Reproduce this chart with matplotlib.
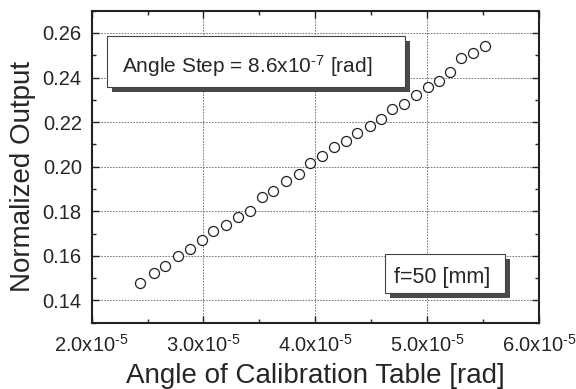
import matplotlib
matplotlib.use("Agg")
import matplotlib.pyplot as plt
from matplotlib.patches import Rectangle

plt.rcParams['font.family'] = ['Liberation Sans', 'DejaVu Sans']
plt.rcParams['mathtext.default'] = 'regular'

# Data (x in units of 1e-5 rad)
angle_e5 = [2.433, 2.558, 2.660, 2.768, 2.876, 2.984, 3.089, 3.198, 3.306, 3.414,
            3.519, 3.624, 3.739, 3.851, 3.952, 4.061, 4.166, 4.271, 4.372, 4.484,
            4.586, 4.687, 4.796, 4.897, 5.006, 5.104, 5.199, 5.301, 5.409, 5.518]
output = [0.1480, 0.1523, 0.1555, 0.1600, 0.1631, 0.1672, 0.1712, 0.1739, 0.1775, 0.1801,
          0.1862, 0.1891, 0.1936, 0.1966, 0.2017, 0.2048, 0.2087, 0.2114, 0.2152, 0.2183,
          0.2215, 0.2260, 0.2281, 0.2320, 0.2357, 0.2386, 0.2423, 0.2486, 0.2509, 0.2540]
angle = [v * 1e-5 for v in angle_e5]

xticks = [2.0e-5, 3.0e-5, 4.0e-5, 5.0e-5, 6.0e-5]
xticklabels = ["2.0x10$^{\u2010 5}$", "3.0x10$^{\u2010 5}$", "4.0x10$^{\u2010 5}$",
               "5.0x10$^{\u2010 5}$", "6.0x10$^{\u2010 5}$"]
yticks = [0.14, 0.16, 0.18, 0.20, 0.22, 0.24, 0.26]
yticklabels = ["0.14", "0.16", "0.18", "0.20", "0.22", "0.24", "0.26"]
xminor = [2.5e-5, 3.5e-5, 4.5e-5, 5.5e-5]
yminor = [0.13, 0.15, 0.17, 0.19, 0.21, 0.23, 0.25, 0.27]

txt_color = '#262626'

fig = plt.figure(figsize=(5.76, 3.89), dpi=100)
ax = fig.add_axes([0.159, 0.1704, 0.777, 0.8021])

ax.plot(angle, output, linestyle='none', marker='o', markersize=7.2,
        markerfacecolor='white', markeredgecolor='#222222', markeredgewidth=0.9, zorder=3)

ax.set_xlim(2.0e-5, 6.0e-5)
ax.set_ylim(0.13, 0.27)
ax.set_xticks(xticks)
ax.set_xticklabels(xticklabels)
ax.set_yticks(yticks)
ax.set_yticklabels(yticklabels)
ax.set_xticks(xminor, minor=True)
ax.set_yticks(yminor, minor=True)

ax.tick_params(which='both', direction='in', top=True, right=True, colors='#222222')
ax.tick_params(which='major', length=5, width=1.0, labelsize=14.5, labelcolor=txt_color)
ax.tick_params(which='minor', length=3, width=1.0)
ax.tick_params(axis='x', which='major', pad=8)
ax.tick_params(axis='y', which='major', pad=7)

ax.grid(True, which='major', color='#666666', linewidth=0.6, linestyle=(0, (2, 1.5)))
ax.set_axisbelow(True)

for s in ax.spines.values():
    s.set_linewidth(1.5)
    s.set_color('#222222')

ax.set_xlabel("Angle of Calibration Table [rad]", fontsize=20, color=txt_color, labelpad=5)
ax.set_ylabel("Normalized Output", fontsize=20, color=txt_color)
ax.yaxis.set_label_coords(-0.124, 0.47)

# Text boxes with shadow
def shadow_box(x0, y0, x1, y1, dx=0.012, dy=0.017):
    ax.add_patch(Rectangle((x0 + dx, y0 - dy), x1 - x0, y1 - y0, transform=ax.transAxes,
                           facecolor='#4a4a4a', edgecolor='none', zorder=4))
    ax.add_patch(Rectangle((x0, y0), x1 - x0, y1 - y0, transform=ax.transAxes,
                           facecolor='white', edgecolor='#444444', linewidth=0.8, zorder=5))

shadow_box(0.034, 0.755, 0.700, 0.919)
ax.text(0.0677, 0.801, "Angle Step = 8.6x10$^{\u2010 7}$ [rad]", transform=ax.transAxes,
        fontsize=15, color=txt_color, va='baseline', ha='left', zorder=6)

shadow_box(0.655, 0.095, 0.924, 0.220)
ax.text(0.676, 0.126, "f=50 [mm]", transform=ax.transAxes,
        fontsize=15.5, color=txt_color, va='baseline', ha='left', zorder=6)

fig.savefig("out.png", dpi=100)
